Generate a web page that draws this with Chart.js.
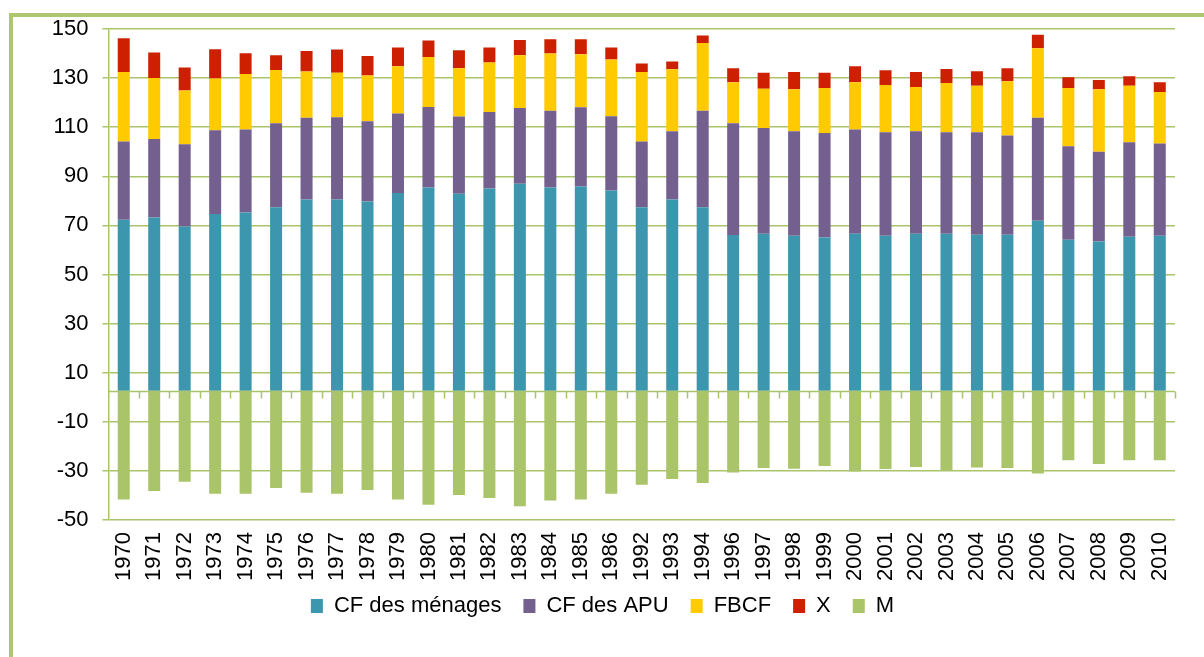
<!DOCTYPE html>
<html>
<head>
<meta charset="utf-8">
<script src="https://cdn.jsdelivr.net/npm/chart.js@4.4.0/dist/chart.umd.min.js"></script>
<style>
  html, body { margin: 0; padding: 0; background: #fff; }
  #frame { position: absolute; left: 9px; top: 13px; width: 1300px; height: 800px; border: 4px solid #adc66f; }
  #wrap { position: absolute; left: 0; top: 0; width: 1204px; height: 657px; }
</style>
</head>
<body>
<div id="frame"></div>
<div id="wrap"><canvas id="myChart"></canvas></div>
<script>
const years = ['1970', '1971', '1972', '1973', '1974', '1975', '1976', '1977', '1978', '1979',
    '1980', '1981', '1982', '1983', '1984', '1985', '1986', '1992', '1993', '1994',
    '1996', '1997', '1998', '1999', '2000', '2001', '2002', '2003', '2004', '2005',
    '2006', '2007', '2008', '2009', '2010'];

const menages = [72.3, 73.2, 69.6, 74.6, 75.3, 77.4, 80.5, 80.5, 79.7, 83.2,
    85.4, 82.9, 85.0, 87.0, 85.4, 85.8, 84.2, 77.4, 80.5, 77.4,
    66.1, 66.6, 65.8, 65.1, 66.6, 65.8, 66.6, 66.6, 66.2, 66.2,
    71.9, 64.2, 63.4, 65.4, 65.8];
const apu = [31.9, 32.0, 33.5, 34.2, 33.8, 34.2, 33.4, 33.6, 32.7, 32.4,
    32.8, 31.5, 31.2, 30.8, 31.3, 32.3, 30.3, 26.8, 27.8, 39.3,
    45.5, 43.1, 42.5, 42.5, 42.5, 42.1, 41.7, 41.3, 41.7, 40.4,
    42.0, 38.0, 36.6, 38.5, 37.6];
const fbcf = [28.3, 24.8, 21.8, 21.0, 22.6, 21.7, 18.8, 18.1, 18.7, 19.2,
    20.4, 19.6, 20.2, 21.5, 23.3, 21.6, 23.1, 28.3, 25.3, 27.6,
    16.7, 16.0, 17.2, 18.4, 19.2, 19.3, 18.1, 20.1, 19.0, 22.1,
    28.3, 23.8, 25.5, 23.0, 20.9];
const exportsX = [13.7, 10.4, 9.4, 12.0, 8.4, 6.0, 8.3, 9.4, 7.9, 7.7,
    6.7, 7.3, 6.1, 6.2, 5.8, 6.1, 4.9, 3.4, 3.2, 3.1,
    5.7, 6.5, 7.0, 6.2, 6.5, 6.0, 6.1, 5.7, 5.9, 5.3,
    5.5, 4.3, 3.7, 3.9, 4.0];
const importsM = [-41.6, -38.2, -34.4, -39.3, -39.3, -37.0, -38.9, -39.3, -37.8, -41.6,
    -43.8, -39.8, -41.0, -44.4, -42.1, -41.6, -39.3, -35.6, -33.3, -34.9,
    -30.7, -28.8, -29.1, -28.0, -30.2, -29.2, -28.4, -29.9, -28.6, -28.8,
    -31.1, -25.7, -27.2, -25.7, -25.7];

const yTickValues = [-50, -30, -10, 10, 30, 50, 70, 90, 110, 130, 150];

// the category axis crosses the value axis slightly above zero
const AXIS_CROSS = 2.6;

const green = '#a9c46b';
const font = { family: "'Liberation Sans', Arial, sans-serif", size: 22 };

// stack the positive components by hand so every bar starts at the axis crossing
const series = [
    { label: 'CF des ménages', values: menages, color: '#3c96ad' },
    { label: 'CF des APU', values: apu, color: '#74608e' },
    { label: 'FBCF', values: fbcf, color: '#ffca00' },
    { label: 'X', values: exportsX, color: '#cc2000' }
];
const running = years.map(() => AXIS_CROSS);
const datasets = series.map((s, k) => {
    const data = s.values.map((v, i) => {
        const lo = k === 0 ? AXIS_CROSS : running[i];
        const hi = k === 0 ? v : running[i] + v;
        running[i] = hi;
        return [lo, hi];
    });
    return { label: s.label, data: data, backgroundColor: s.color, borderWidth: 0 };
});
datasets.push({
    label: 'M',
    data: importsM.map(v => [AXIS_CROSS, v]),
    backgroundColor: '#aac46a',
    borderWidth: 0
});

// horizontal axis line at the crossing value, with tick marks between categories
const crossAxis = {
    id: 'crossAxis',
    afterDatasetsDraw(chart) {
        const { ctx, chartArea, scales: { y } } = chart;
        const py = Math.round(y.getPixelForValue(AXIS_CROSS)) + 0.5;
        ctx.save();
        ctx.strokeStyle = green;
        ctx.lineWidth = 1.5;
        ctx.beginPath();
        ctx.moveTo(chartArea.left, py);
        ctx.lineTo(chartArea.right, py);
        const step = (chartArea.right - chartArea.left) / years.length;
        for (let i = 1; i <= years.length; i++) {
            const px = Math.round(chartArea.left + step * i) + 0.5;
            ctx.moveTo(px, py);
            ctx.lineTo(px, py + 7);
        }
        ctx.stroke();
        ctx.restore();
    }
};

// pull the legend up closer to the rotated year labels
const liftLegend = {
    id: 'liftLegend',
    afterLayout(chart) {
        const lg = chart.legend;
        lg.top -= 13;
        lg.bottom -= 13;
        lg.left += 8;
        lg.right += 8;
    }
};

const ctx = document.getElementById('myChart').getContext('2d');
const myChart = new Chart(ctx, {
    type: 'bar',
    data: { labels: years, datasets: datasets },
    plugins: [crossAxis, liftLegend],
    options: {
        responsive: true,
        maintainAspectRatio: false,
        animation: false,
        layout: { padding: { left: 14, right: 29, top: 29, bottom: 17 } },
        datasets: { bar: { grouped: false, barPercentage: 0.394, categoryPercentage: 1 } },
        scales: {
            x: {
                grid: { display: false, drawTicks: false },
                border: { display: false },
                ticks: { font: font, color: '#000', minRotation: 90, maxRotation: 90, autoSkip: false, padding: 12 },
                afterFit: s => { s.height = 66; }
            },
            y: {
                min: -50,
                max: 150,
                afterBuildTicks: s => { s.ticks = yTickValues.map(v => ({ value: v })); },
                grid: { color: green, lineWidth: 1.5, tickLength: 6 },
                border: { color: green, width: 1.5 },
                ticks: { font: font, color: '#000', padding: 14 },
                afterFit: s => { s.width = 94.5; }
            }
        },
        plugins: {
            legend: {
                position: 'bottom',
                labels: { boxWidth: 12, boxHeight: 14, padding: 22, font: font, color: '#000' }
            },
            tooltip: { enabled: false }
        }
    }
});
</script>
</body>
</html>
